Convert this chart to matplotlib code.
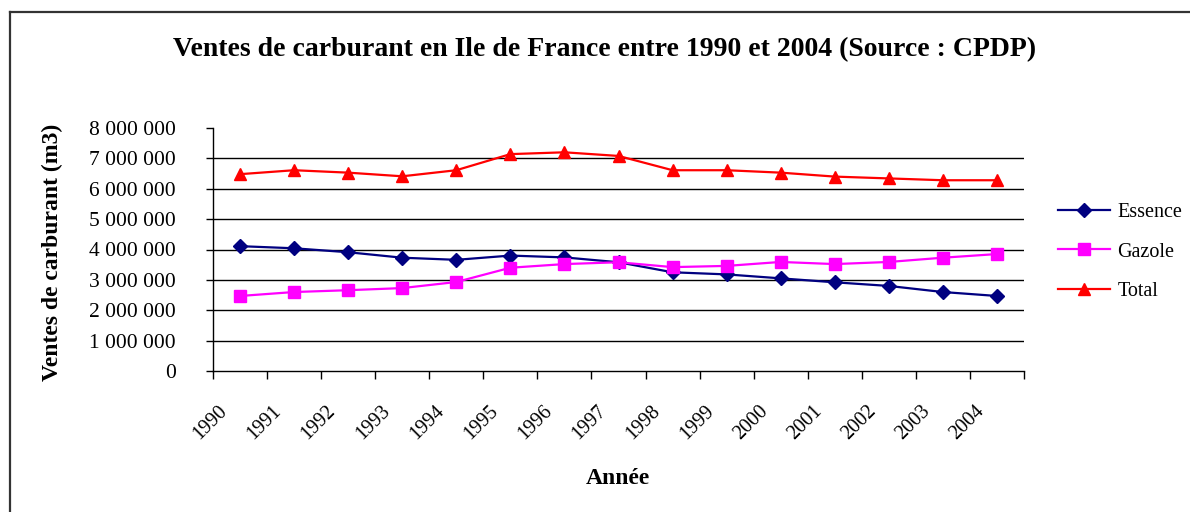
#!/usr/bin/env python3
"""Ventes de carburant en Ile de France, 1990-2004 (line chart, Excel style)."""

import matplotlib
matplotlib.use("Agg")
import matplotlib.pyplot as plt
from matplotlib.lines import Line2D
from matplotlib.ticker import FuncFormatter, FixedLocator
from matplotlib.transforms import ScaledTranslation
import numpy as np

# --- Data (m3) ---
years = ["1990", "1991", "1992", "1993", "1994", "1995", "1996", "1997",
         "1998", "1999", "2000", "2001", "2002", "2003", "2004"]
essence = [4110000, 4040000, 3910000, 3730000, 3660000, 3800000, 3740000, 3580000,
           3250000, 3180000, 3050000, 2920000, 2800000, 2600000, 2470000]
gazole = [2470000, 2600000, 2660000, 2730000, 2930000, 3400000, 3520000, 3580000,
          3420000, 3460000, 3590000, 3520000, 3590000, 3730000, 3850000]
total = [6480000, 6610000, 6530000, 6410000, 6610000, 7140000, 7200000, 7080000,
         6610000, 6610000, 6530000, 6400000, 6340000, 6280000, 6280000]

FONT = ["Liberation Serif", "DejaVu Serif"]
plt.rcParams["font.family"] = FONT

W, H = 1190, 512
fig = plt.figure(figsize=(W / 100, H / 100), dpi=100)

# plot area in pixel coords of the reference
left, right, top, bottom = 213, 1024, 128, 371
ax = fig.add_axes([left / W, 1 - bottom / H, (right - left) / W, (bottom - top) / H])

x = np.arange(len(years))
ax.plot(x, essence, color="#000080", lw=1.6, marker="D", ms=7, label="Essence", zorder=3)
ax.plot(x, gazole, color="#FF00FF", lw=1.6, marker="s", ms=9, label="Gazole", zorder=3)
ax.plot(x, total, color="#FF0000", lw=1.6, marker="^", ms=9, label="Total", zorder=3)

ax.set_xlim(-0.5, len(years) - 0.5)
ax.set_ylim(0, 8000000)

# horizontal gridlines (none at the top value)
for v in range(1000000, 8000000, 1000000):
    ax.axhline(v, color="black", lw=1, zorder=1)

ax.set_yticks(np.arange(0, 8000001, 1000000))
ax.yaxis.set_major_formatter(FuncFormatter(lambda v, p: f"{int(v):,}".replace(",", " ")))
ax.tick_params(axis="y", direction="out", length=5, width=1, pad=22, labelsize=15.5)

ax.set_xticks(x)
ax.set_xticklabels(years, rotation=45, ha="right", va="top", rotation_mode="anchor", fontsize=14.5)
ax.tick_params(axis="x", which="major", length=0, pad=22)
shift = ScaledTranslation(-0.22, 0, fig.dpi_scale_trans)
for lab in ax.get_xticklabels():
    lab.set_transform(lab.get_transform() + shift)
ax.xaxis.set_minor_locator(FixedLocator(np.arange(-0.5, len(years), 1.0)))
ax.tick_params(axis="x", which="minor", direction="out", length=6, width=1)

for side in ["top", "right"]:
    ax.spines[side].set_visible(False)
for side in ["left", "bottom"]:
    ax.spines[side].set_linewidth(1)
    ax.spines[side].set_color("black")

# titles
fig.text(605 / W, 1 - 50 / H, "Ventes de carburant en Ile de France entre 1990 et 2004 (Source : CPDP)",
         ha="center", va="center", fontsize=20, fontweight="bold")
fig.text(52 / W, 1 - 252 / H, "Ventes de carburant (m3)", rotation=90,
         ha="center", va="center", fontsize=17, fontweight="bold")
fig.text(618 / W, 1 - 478 / H, "Année", ha="center", va="center", fontsize=17, fontweight="bold")

# legend on the right
fig.legend(loc="center left", bbox_to_anchor=(1040 / W, 1 - 252 / H), frameon=False,
           fontsize=14.5, handlelength=2.6, handletextpad=0.35, labelspacing=1.0)

# chart border (left and top only are visible)
border = dict(color="#333333", lw=1.6, transform=fig.transFigure)
fig.add_artist(Line2D([10 / W, 10 / W], [0, 1 - 12 / H], **border))
fig.add_artist(Line2D([10 / W, 1], [1 - 12 / H, 1 - 12 / H], **border))

fig.savefig("out.png", dpi=100)
plt.close("all")
